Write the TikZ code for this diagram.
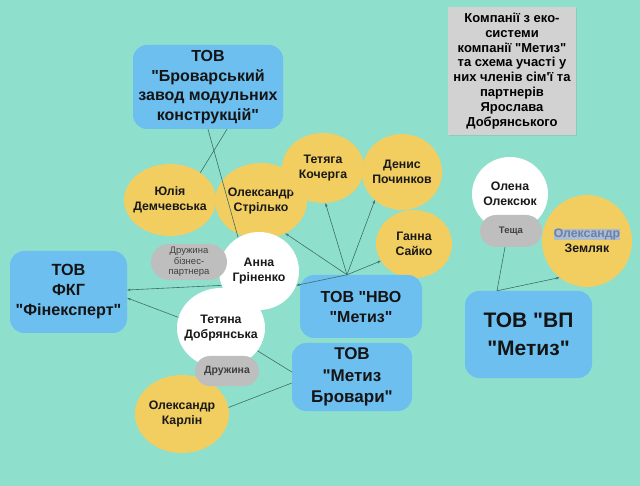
\documentclass[tikz,border=0pt]{standalone}
\usepackage{fontspec}
\setmainfont{Liberation Sans}[Ligatures=TeXOff]
\usetikzlibrary{shapes.geometric,shapes.misc,arrows.meta,calc,shadows}
\definecolor{bg}{HTML}{8EE0CD}
\definecolor{yel}{HTML}{F2CD5F}
\definecolor{blu}{HTML}{6DBFF0}
\definecolor{pillc}{HTML}{BEBEBE}
\definecolor{titc}{HTML}{D2D2D2}
\definecolor{lnc}{HTML}{3F6E66}
\definecolor{hlc}{HTML}{AEBDCB}
\definecolor{hltx}{HTML}{6A80B2}
\begin{document}
\begin{tikzpicture}[x=1pt,y=-1pt,
  person/.style={ellipse,inner sep=0pt},
  yp/.style={person,fill=yel},
  wp/.style={person,fill=white},
  lbl/.style={inner sep=0pt,align=center,text=black!90,font=\bfseries\fontsize{12.3}{15}\selectfont},
  pill/.style={rounded rectangle,fill=pillc,inner sep=0pt,align=center,text=black!75},
  comp/.style={rectangle,rounded corners=14pt,fill=blu,inner sep=0pt,align=center,text=black!92},
  conn/.style={draw=lnc,line width=0.6pt},
  arr/.style={conn,-{Stealth[length=3.5pt,width=2.6pt]}}]
\useasboundingbox[fill=bg] (0,0) rectangle (640,486);

% title
\node[fill=titc,minimum width=128pt,minimum height=128pt,inner sep=0pt,align=center,
  drop shadow={opacity=0.2,shadow xshift=1pt,shadow yshift=-1.5pt},
  font=\bfseries\fontsize{13}{14.8}\selectfont] (title) at (512,71)
  {Компанії з еко-\\системи\\компанії "Метиз"\\та схема участі у\\них членів сім'ї та\\партнерів\\Ярослава\\Добрянського};

% companies
\node[comp,minimum width=150pt,minimum height=84pt,font=\bfseries\fontsize{16}{19.5}\selectfont] (brov) at (208,87)
  {ТОВ\\"Броварський\\завод модульних\\конструкцій"};
\node[comp,minimum width=117pt,minimum height=82pt,font=\bfseries\fontsize{16.2}{20}\selectfont] (fkg) at (68.5,292)
  {ТОВ\\ФКГ\\"Фінексперт"};

% persons
\node[yp,minimum width=92pt,minimum height=72pt,label={[lbl]center:{Юлія\\Демчевська}}] (yulia) at (170,200) {};
\node[yp,minimum width=92pt,minimum height=76pt,label={[lbl]center:{Олександр\\Стрілько}}] (stril) at (261,201) {};
\node[yp,minimum width=82pt,minimum height=70pt,label={[lbl]center:{Тетяга\\Кочерга}}] (koch) at (323,168) {};
\node[yp,minimum width=80pt,minimum height=76pt,label={[lbl]center:{Денис\\Починков}}] (poch) at (402,172) {};
\node[yp,minimum width=76pt,minimum height=68pt,label={[lbl]center:{Ганна\\Сайко}}] (sayko) at (414,244) {};
\node[wp,minimum width=80pt,minimum height=78pt,label={[lbl]center:{Анна\\Гріненко}}] (anna) at (259,271) {};
\node[wp,minimum width=88pt,minimum height=80pt,label={[lbl]center:{Тетяна\\Добрянська}}] (tet) at (221,328) {};
\node[yp,minimum width=94pt,minimum height=78pt,label={[lbl]center:{Олександр\\Карлін}}] (karlin) at (182,414) {};
\node[wp,minimum width=76pt,minimum height=74pt,label={[lbl]center:{Олена\\Олексюк}}] (olena) at (510,194) {};
\node[yp,minimum width=90pt,minimum height=92pt,label={[lbl]center:{{\setlength\fboxsep{0pt}\colorbox{hlc}{\textcolor{hltx}{Олександр}}}\\Земляк}}] (zem) at (587,241) {};

% pills
\node[pill,minimum width=76pt,minimum height=36pt,font=\fontsize{9.5}{10.7}\selectfont] (pbiz) at (189,262) {Дружина\\бізнес-\\партнера};
\node[pill,minimum width=64pt,minimum height=30pt,font=\bfseries\fontsize{10.5}{12}\selectfont] (pdr) at (227,371) {Дружина};
\node[pill,minimum width=62pt,minimum height=32pt,font=\bfseries\fontsize{9.5}{11}\selectfont] (pt) at (511,231) {Теща};

% companies (lower)
\node[comp,minimum width=122pt,minimum height=63pt,font=\bfseries\fontsize{16}{20}\selectfont] (nvo) at (361,306.5)
  {ТОВ "НВО\\"Метиз"};
\node[comp,minimum width=120pt,minimum height=68pt,font=\bfseries\fontsize{17}{21.5}\selectfont] (metbr) at (352,377)
  {ТОВ\\"Метиз\\Бровари"};
\node[comp,minimum width=127pt,minimum height=87pt,font=\bfseries\fontsize{21}{28}\selectfont] (vp) at (528.5,334.5)
  {ТОВ "ВП\\"Метиз"};

% connectors
\coordinate (hub) at ($(nvo.north)+(-14,0)$);
\draw[arr] (hub) -- (stril.-53);
\draw[arr] (hub) -- (koch.-86);
\draw[arr] (hub) -- (poch.-134);
\draw[arr] (hub) -- (sayko.-153);
\draw[arr] (hub) -- (anna.-21);

\draw[conn] (brov.south) -- (anna.122);
\draw[conn] ($(brov.south)+(19,0)$) -- (yulia.42);

\draw[arr] (anna.-159) -- ($(fkg.east)+(0,-2)$);
\draw[arr] (tet.166) -- ($(fkg.east)+(0,6)$);

\draw[conn] (tet.-32) -- ($(metbr.west)+(0,-5)$);
\draw[conn] (karlin.8) -- ($(metbr.west)+(0,6)$);

\coordinate (hub2) at ($(vp.north)+(-31.5,0)$);
\draw[conn] (hub2) -- ($(pt.south)+(-6,0)$);
\draw[arr] (hub2) -- (zem.-127);
\end{tikzpicture}
\end{document}
